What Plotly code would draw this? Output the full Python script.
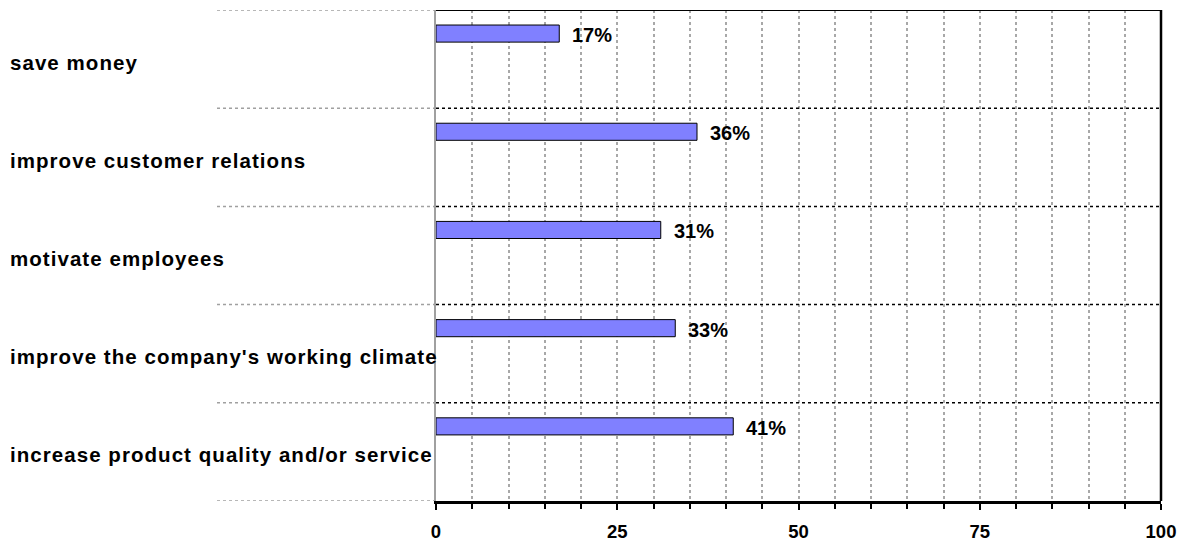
import plotly.graph_objects as go

categories = [
    "save money",
    "improve customer relations",
    "motivate employees",
    "improve the company's working climate",
    "increase product quality and/or service",
]
values = [17, 36, 31, 33, 41]
tick_vals = [0, 25, 50, 75, 100]
tick_text = ["0", "25", "50", "75", "100"]

positions = list(range(len(categories)))
FONT = "Liberation Sans, Arial, sans-serif"
W, H = 1188, 546
ml, mr, mt, mb = 436, 27, 10, 45
pw = W - ml - mr

fig = go.Figure()
fig.add_trace(go.Bar(
    x=values, y=positions, orientation="h",
    offset=-0.347, width=0.174,
    marker=dict(color="#8080FF", line=dict(color="black", width=1)),
    hoverinfo="skip",
))

annotations = []
for p, v in zip(positions, values):
    annotations.append(dict(
        x=v, y=p - 0.245, xref="x", yref="y", text=f"{v}%",
        showarrow=False, xanchor="left", yanchor="middle", xshift=11,
        font=dict(family=FONT, size=20, color="black", weight="bold"),
    ))
for p, c in zip(positions, categories):
    annotations.append(dict(
        x=(8 - ml) / pw, y=p + 0.03, xref="paper", yref="y",
        text=f'<span style="letter-spacing:1.05px">{c}</span>',
        showarrow=False, xanchor="left", yanchor="middle",
        font=dict(family=FONT, size=20.5, color="black", weight="bold"),
    ))

shapes = []
left_x = (217 - ml) / pw
n = len(categories)
for k in range(n + 1):
    yb = k - 0.5
    shapes.append(dict(type="line", xref="paper", yref="y", x0=left_x, x1=0,
                       y0=yb, y1=yb, line=dict(color="#a0a0a0", width=1.5, dash="dot")))
    if 0 < k < n:
        shapes.append(dict(type="line", xref="paper", yref="y", x0=0, x1=1,
                           y0=yb, y1=yb, line=dict(color="black", width=1.5, dash="dot")))
shapes.append(dict(type="line", xref="paper", yref="y", x0=0, x1=1,
                   y0=-0.5, y1=-0.5, line=dict(color="black", width=2)))
shapes.append(dict(type="line", xref="paper", yref="paper", x0=1, x1=1,
                   y0=0, y1=1, line=dict(color="black", width=2.5)))

fig.update_layout(
    width=W, height=H,
    margin=dict(l=ml, r=mr, t=mt, b=mb, autoexpand=False),
    paper_bgcolor="white", plot_bgcolor="white",
    showlegend=False,
    annotations=annotations, shapes=shapes,
    xaxis=dict(
        range=[0, 100], tickvals=tick_vals, ticktext=tick_text,
        automargin=False,
        showgrid=True, gridcolor="#a8a8a8", griddash="dot", gridwidth=1.5,
        showline=True, linecolor="black", linewidth=3,
        ticks="outside", ticklen=6, tickwidth=2, tickcolor="black",
        ticklabelstandoff=6,
        minor=dict(dtick=5, showgrid=True, gridcolor="#a8a8a8", griddash="dot",
                   gridwidth=1.5, ticks="outside", ticklen=5, tickwidth=2, tickcolor="black"),
        zeroline=False,
        tickfont=dict(family=FONT, size=18.5, color="black", weight="bold"),
        fixedrange=True,
    ),
    yaxis=dict(
        range=[n - 0.5, -0.5], showticklabels=False, showgrid=False,
        showline=True, linecolor="#a0a0a0", linewidth=2, zeroline=False,
        automargin=False, fixedrange=True,
    ),
)

fig.write_html(
    "out.html",
    config={"displayModeBar": False},
    post_script="document.body.style.margin='0';document.body.style.overflow='hidden';",
)
